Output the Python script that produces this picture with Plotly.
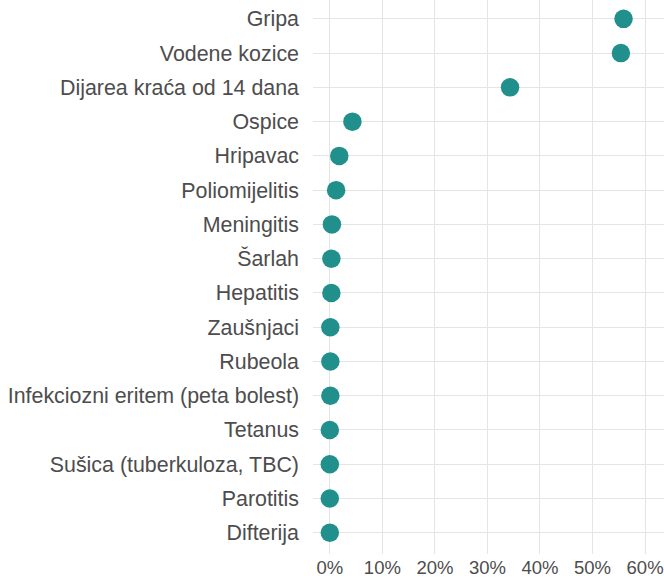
import plotly.graph_objects as go

# Share of reported cases per disease
diseases = [
    "Gripa", "Vodene kozice", "Dijarea kraća od 14 dana", "Ospice", "Hripavac",
    "Poliomijelitis", "Meningitis", "Šarlah", "Hepatitis", "Zaušnjaci", "Rubeola",
    "Infekciozni eritem (peta bolest)", "Tetanus", "Sušica (tuberkuloza, TBC)",
    "Parotitis", "Difterija",
]
shares = [0.559, 0.554, 0.343, 0.043, 0.018, 0.012, 0.004, 0.003, 0.003,
          0.001, 0.001, 0.001, 0.0, 0.0, 0.0, 0.0]

tick_vals = [0, 0.1, 0.2, 0.3, 0.4, 0.5, 0.6]
tick_text = ["0%", "10%", "20%", "30%", "40%", "50%", "60%"]

fig = go.Figure(
    go.Scatter(
        x=shares,
        y=diseases,
        mode="markers",
        marker=dict(color="#21908C", size=18.5, line=dict(width=0)),
        hoverinfo="x+y",
    )
)

font_family = "Liberation Sans, Arial, sans-serif"
n = len(diseases)
fig.update_layout(
    width=664,
    height=583,
    margin=dict(l=313, r=0, t=0, b=29),
    paper_bgcolor="white",
    plot_bgcolor="white",
    showlegend=False,
    font=dict(family=font_family, size=19, color="#4d4d4d"),
    xaxis=dict(
        range=[-0.032, 0.636],
        tickvals=tick_vals,
        ticktext=tick_text,
        showgrid=True,
        gridcolor="#e5e5e5",
        gridwidth=1,
        zeroline=False,
        showline=False,
        ticks="",
        tickfont=dict(size=18.5, color="#4d4d4d"),
    ),
    yaxis=dict(
        type="category",
        categoryorder="array",
        categoryarray=diseases,
        range=[n - 1 + 0.62, -0.55],
        showgrid=True,
        gridcolor="#e5e5e5",
        gridwidth=1,
        zeroline=False,
        showline=False,
        ticks="",
        ticklabelstandoff=13,
        tickfont=dict(size=21.4, color="#4d4d4d"),
    ),
)

fig.write_html("out.html")
